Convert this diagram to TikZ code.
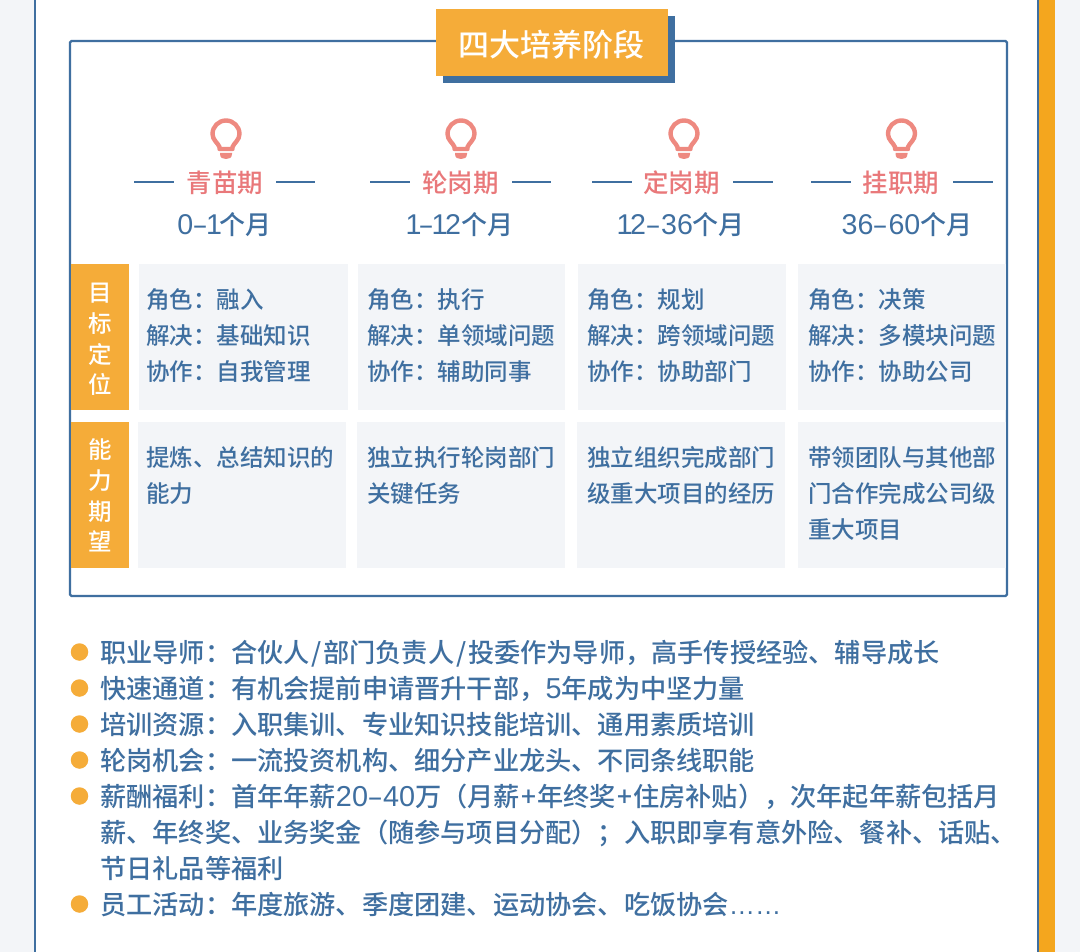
\documentclass[tikz,border=0pt]{standalone}
\usepackage{fontspec}
\setmainfont{Noto Sans CJK SC}[UprightFont={* Medium}]
\newfontfamily\latinfont{Liberation Sans}
\newfontfamily\dg[Scale=1.1]{Liberation Sans}
\newcommand{\nar}{{\kern-2.4pt 1\kern-2.4pt}}
\newcommand{\dsh}{{\rmfamily\kern0.5pt –\kern0.5pt}}
\newcommand{\slsh}{{\kern1.7pt/\kern1.7pt}}
\newcommand{\plus}{{\kern1.2pt+\kern1.2pt}}
\definecolor{navy}{HTML}{3F6FA0}
\definecolor{amber}{HTML}{F5AC39}
\definecolor{stripe}{HTML}{F4A61E}
\definecolor{paper}{HTML}{F3F5F8}
\definecolor{salmon}{HTML}{E9787A}
\definecolor{bulbc}{HTML}{EE8980}
\newcommand{\fs}[1]{\fontsize{#1}{#1}\selectfont}
\tikzset{
  x=1pt,y=-1pt,
  frameline/.style={draw=navy,line width=2.4pt,rounded corners=1.5pt},
  cellbox/.style={fill=paper,draw=none,anchor=north west,inner sep=0pt},
  tagbox/.style={fill=amber,draw=none,anchor=north west,inner sep=0pt,minimum width=58pt},
  tagtext/.style={inner sep=0pt,text=white,align=center,font=\fontsize{23.5}{30.7}\selectfont},
  celltext/.style={anchor=north west,inner sep=0pt,text=navy,align=left,font=\fontsize{23.5}{36}\selectfont},
  phase/.style={inner sep=0pt,text=salmon,font=\fs{25.5}},
  span/.style={inner sep=0pt,text=navy,font=\fs{26}},
  rule/.style={draw=navy,line width=2.5pt},
  listtext/.style={anchor=base west,inner sep=0pt,text=navy,font=\fs{26.2}},
  dot/.style={circle,fill=amber,draw=none,inner sep=0pt,minimum size=17.5pt},
  bulbline/.style={draw=bulbc,line width=4.4pt,line join=round},
}
\newcommand{\bulb}[2]{%
  \draw[bulbline] (#1-6.5,#2+15) -- (#1-6.5,#2+13) .. controls (#1-8,#2+9) and (#1-13.5,#2+6) .. (#1-13.5,#2) arc[start angle=180,end angle=0,radius=13.5pt] .. controls (#1+13.5,#2+6) and (#1+8,#2+9) .. (#1+6.5,#2+13) -- (#1+6.5,#2+15) -- cycle;
  \fill[bulbc] (#1-6,#2+19) -- (#1+6,#2+19) -- (#1+6,#2+20) .. controls (#1+6,#2+24) and (#1+3,#2+25) .. (#1,#2+25) .. controls (#1-3,#2+25) and (#1-6,#2+24) .. (#1-6,#2+20) -- cycle;
}
\begin{document}
\begin{tikzpicture}
\useasboundingbox (0,0) rectangle (1080,952);
\fill[paper] (0,0) rectangle (1080,952);
\fill[white] (35,0) rectangle (1038,952);
\draw[navy,line width=2.4pt] (35,0) -- (35,952);
\draw[navy,line width=2.4pt] (1038,0) -- (1038,952);
\fill[stripe] (1039,0) rectangle (1055,952);
\draw[frameline,fill=white] (70,41) rectangle (1007,596);
% title
\fill[navy] (443,16) rectangle (675,83);
\node[fill=amber,inner sep=0pt,minimum width=232pt,minimum height=67pt,anchor=north west] (titlebox) at (436,8.5) {};
\node[inner sep=0pt,text=white,font=\fs{31}] (title) at (551.5,44.5) {四大培养阶段};
% bulbs and headings
\bulb{226}{134}
\bulb{461}{134}
\bulb{684}{134}
\bulb{901.5}{134}
\foreach \i/\cx/\dx/\nm/\dur/\la/\lb/\lc/\ld in {1/225/224.5/青苗期/{\dg 0\dsh\nar}个月/134/174/276/315, 2/460.5/460.5/轮岗期/{\dg \nar\dsh\nar 2}个月/370/410/512/551, 3/681.5/682/定岗期/{\dg \nar 2\dsh 36}个月/592/632/733/773, 4/901/907/挂职期/{\dg 36\dsh 60}个月/811/851/953/993}{
  \node[phase] (p\i) at (\cx,183) {\nm};
  \node[span] (d\i) at (\dx,224.5) {\dur};
  \draw[rule] (\la,182) -- (\lb,182);
  \draw[rule] (\lc,182) -- (\ld,182);
}
% tags
\node[tagbox,minimum height=146pt] (t1) at (71,264) {};
\node[tagbox,minimum height=146pt] (t2) at (71,422) {};
\node[tagtext] (tt1) at (100,339.5) {目\\标\\定\\位};
\node[tagtext] (tt2) at (100,495.5) {能\\力\\期\\望};
% row 1 cells
\foreach \x/\w/\n in {139/209/a,358/207/b,578/208/c,798/208/d}{
  \node[cellbox,minimum width=\w pt,minimum height=146pt] (r1\n) at (\x,264) {};
}
\foreach \x/\w/\n in {138/208/a,357/208/b,577/208/c,798/208/d}{
  \node[cellbox,minimum width=\w pt,minimum height=146pt] (r2\n) at (\x,422) {};
}
\node[celltext] (c1a) at (146.2,288) {角色：融入\\解决：基础知识\\协作：自我管理};
\node[celltext] (c1b) at (367.2,288) {角色：执行\\解决：单领域问题\\协作：辅助同事};
\node[celltext] (c1c) at (587.2,288) {角色：规划\\解决：跨领域问题\\协作：协助部门};
\node[celltext] (c1d) at (808.2,288) {角色：决策\\解决：多模块问题\\协作：协助公司};
\node[celltext] (c2a) at (146.2,446) {提炼、总结知识的\\能力};
\node[celltext] (c2b) at (367.2,446) {独立执行轮岗部门\\关键任务};
\node[celltext] (c2c) at (587.2,446) {独立组织完成部门\\级重大项目的经历};
\node[celltext] (c2d) at (808.2,446) {带领团队与其他部\\门合作完成公司级\\重大项目};
% list
\foreach \y in {652,688,724,760,796,904}{
  \node[dot] (b\y) at (79.5,\y) {};
}
\node[listtext] (l1) at (100,662.5) {职业导师：合伙人\slsh 部门负责人\slsh 投委作为导师，高手传授经验、辅导成长};
\node[listtext] (l2) at (100,698.5) {快速通道：有机会提前申请晋升干部，{\dg 5}年成为中坚力量};
\node[listtext] (l3) at (100,734.5) {培训资源：入职集训、专业知识技能培训、通用素质培训};
\node[listtext] (l4) at (100,770.5) {轮岗机会：一流投资机构、细分产业龙头、不同条线职能};
\node[listtext] (l5) at (100,806.5) {薪酬福利：首年年薪{\dg 20\dsh 40}万（月薪\plus 年终奖\plus 住房补贴），次年起年薪包括月};
\node[listtext] (l6) at (100,842.5) {薪、年终奖、业务奖金（随参与项目分配）；入职即享有意外险、餐补、话贴、};
\node[listtext] (l7) at (100,878.5) {节日礼品等福利};
\node[listtext] (l8) at (100,914.5) {员工活动：年度旅游、季度团建、运动协会、吃饭协会{\latinfont ……}};
\end{tikzpicture}
\end{document}
